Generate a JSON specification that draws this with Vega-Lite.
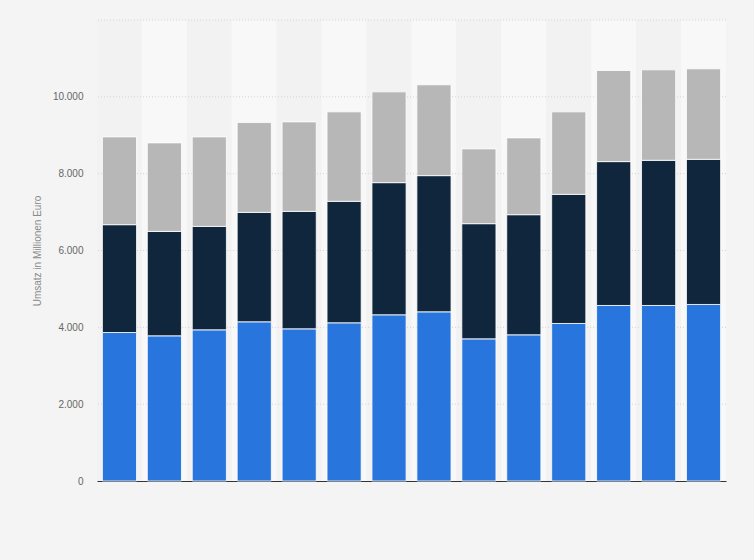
{
  "$schema": "https://vega.github.io/schema/vega-lite/v6.json",
  "autosize": "none",
  "width": 629,
  "height": 461,
  "padding": {"left": 97, "top": 20, "right": 28, "bottom": 79},
  "background": "#f4f4f4",
  "config": {
    "view": {"stroke": null, "fill": null},
    "font": "Liberation Sans"
  },
  "datasets": {
    "umsatz": [
      {"jahr": "2008", "segment": "Segment 1", "wert": 3865},
      {"jahr": "2008", "segment": "Segment 2", "wert": 2807},
      {"jahr": "2008", "segment": "Segment 3", "wert": 2285},
      {"jahr": "2009", "segment": "Segment 1", "wert": 3779},
      {"jahr": "2009", "segment": "Segment 2", "wert": 2718},
      {"jahr": "2009", "segment": "Segment 3", "wert": 2304},
      {"jahr": "2010", "segment": "Segment 1", "wert": 3935},
      {"jahr": "2010", "segment": "Segment 2", "wert": 2693},
      {"jahr": "2010", "segment": "Segment 3", "wert": 2329},
      {"jahr": "2011", "segment": "Segment 1", "wert": 4144},
      {"jahr": "2011", "segment": "Segment 2", "wert": 2849},
      {"jahr": "2011", "segment": "Segment 3", "wert": 2337},
      {"jahr": "2012", "segment": "Segment 1", "wert": 3961},
      {"jahr": "2012", "segment": "Segment 2", "wert": 3058},
      {"jahr": "2012", "segment": "Segment 3", "wert": 2329},
      {"jahr": "2013", "segment": "Segment 1", "wert": 4118},
      {"jahr": "2013", "segment": "Segment 2", "wert": 3162},
      {"jahr": "2013", "segment": "Segment 3", "wert": 2329},
      {"jahr": "2014", "segment": "Segment 1", "wert": 4326},
      {"jahr": "2014", "segment": "Segment 2", "wert": 3440},
      {"jahr": "2014", "segment": "Segment 3", "wert": 2364},
      {"jahr": "2015", "segment": "Segment 1", "wert": 4404},
      {"jahr": "2015", "segment": "Segment 2", "wert": 3545},
      {"jahr": "2015", "segment": "Segment 3", "wert": 2364},
      {"jahr": "2016", "segment": "Segment 1", "wert": 3700},
      {"jahr": "2016", "segment": "Segment 2", "wert": 2998},
      {"jahr": "2016", "segment": "Segment 3", "wert": 1947},
      {"jahr": "2017", "segment": "Segment 1", "wert": 3805},
      {"jahr": "2017", "segment": "Segment 2", "wert": 3127},
      {"jahr": "2017", "segment": "Segment 3", "wert": 1999},
      {"jahr": "2018", "segment": "Segment 1", "wert": 4100},
      {"jahr": "2018", "segment": "Segment 2", "wert": 3362},
      {"jahr": "2018", "segment": "Segment 3", "wert": 2147},
      {"jahr": "2019", "segment": "Segment 1", "wert": 4569},
      {"jahr": "2019", "segment": "Segment 2", "wert": 3745},
      {"jahr": "2019", "segment": "Segment 3", "wert": 2371},
      {"jahr": "2020", "segment": "Segment 1", "wert": 4569},
      {"jahr": "2020", "segment": "Segment 2", "wert": 3779},
      {"jahr": "2020", "segment": "Segment 3", "wert": 2355},
      {"jahr": "2021", "segment": "Segment 1", "wert": 4595},
      {"jahr": "2021", "segment": "Segment 2", "wert": 3779},
      {"jahr": "2021", "segment": "Segment 3", "wert": 2355}
    ],
    "baender": [
      {"jahr": "2008"}, {"jahr": "2009"}, {"jahr": "2010"}, {"jahr": "2011"},
      {"jahr": "2012"}, {"jahr": "2013"}, {"jahr": "2014"}, {"jahr": "2015"},
      {"jahr": "2016"}, {"jahr": "2017"}, {"jahr": "2018"}, {"jahr": "2019"},
      {"jahr": "2020"}, {"jahr": "2021"}
    ],
    "gitter": [
      {"g": 2000}, {"g": 4000}, {"g": 6000}, {"g": 8000}, {"g": 10000}, {"g": 12000}
    ]
  },
  "layer": [
    {
      "data": {"name": "baender"},
      "mark": {"type": "bar", "width": {"band": 1.3158}},
      "encoding": {
        "x": {
          "field": "jahr",
          "type": "nominal",
          "scale": {"paddingInner": 0.24, "paddingOuter": 0.12},
          "axis": {
            "title": null,
            "labels": false,
            "ticks": false,
            "grid": false,
            "domainColor": "#333333",
            "domainWidth": 1
          }
        },
        "y": {"datum": 0, "type": "quantitative"},
        "y2": {"datum": 12000},
        "color": {
          "condition": {
            "test": "indexof(['2009','2011','2013','2015','2017','2019','2021'], datum.jahr) >= 0",
            "value": "#f8f8f8"
          },
          "value": "#f2f2f2"
        }
      }
    },
    {
      "data": {"name": "gitter"},
      "mark": {"type": "rule", "color": "#d4d4d4", "strokeDash": [1, 2], "strokeWidth": 1},
      "encoding": {
        "y": {"field": "g", "type": "quantitative"}
      }
    },
    {
      "data": {"name": "umsatz"},
      "mark": {"type": "bar", "stroke": "#ffffff", "strokeWidth": 1, "strokeOpacity": 0.8},
      "encoding": {
        "x": {"field": "jahr", "type": "nominal"},
        "y": {
          "field": "wert",
          "type": "quantitative",
          "aggregate": "sum",
          "stack": "zero",
          "scale": {"domain": [0, 12000], "nice": false},
          "axis": {
            "title": "Umsatz in Millionen Euro",
            "titleFontSize": 10,
            "titleFontWeight": "normal",
            "titleColor": "#8a8a8a",
            "titlePadding": 10,
            "values": [0, 2000, 4000, 6000, 8000, 10000, 12000],
            "labelExpr": "datum.value == 12000 ? '' : replace(format(datum.value, ','), ',', '.')",
            "labelFontSize": 10,
            "labelColor": "#666666",
            "labelPadding": 14,
            "ticks": false,
            "domain": false,
            "grid": false
          }
        },
        "color": {
          "field": "segment",
          "type": "nominal",
          "sort": ["Segment 1", "Segment 2", "Segment 3"],
          "scale": {
            "domain": ["Segment 1", "Segment 2", "Segment 3"],
            "range": ["#2876dd", "#0f263c", "#b7b7b7"]
          },
          "legend": null
        },
        "order": {"field": "segment", "sort": "ascending"}
      }
    }
  ]
}
